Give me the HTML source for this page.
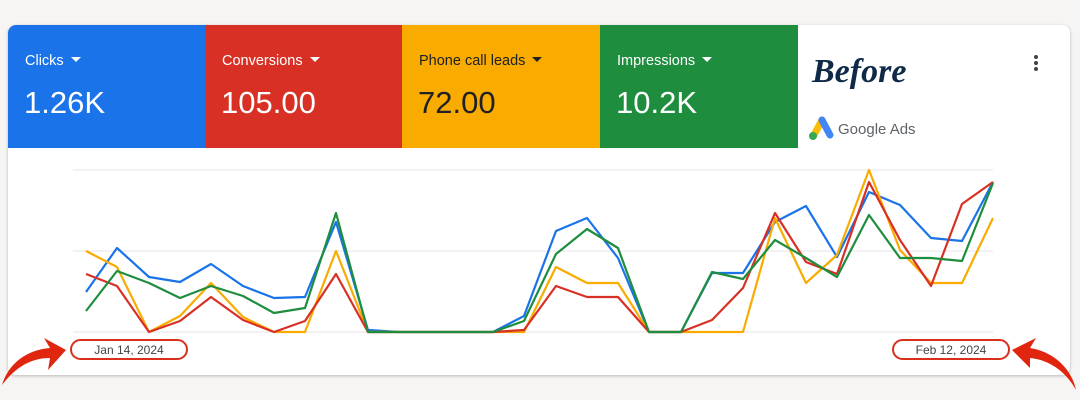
<!DOCTYPE html>
<html><head><style>
body{margin:0;width:1080px;height:400px;background:#f6f5f3;font-family:"Liberation Sans",sans-serif;position:relative;overflow:hidden}
.card{position:absolute;left:8px;top:25px;width:1062px;height:350px;background:#fff;border-radius:8px;box-shadow:0 1px 3px rgba(0,0,0,.25);overflow:hidden}
.tile{position:absolute;top:0;height:123px;width:198px;color:#fff}
.tile .l{position:absolute;left:17px;top:28px;font-size:14.5px}
.tile .v{position:absolute;left:16px;top:60px;font-size:31px}
.tri{display:inline-block;width:0;height:0;border-left:5px solid transparent;border-right:5px solid transparent;border-top:5px solid currentColor;margin-left:7px;vertical-align:3px}
</style></head><body>
<div class="card">
<div class="tile" style="left:0;background:#1a73e8"><div class="l">Clicks<span class="tri"></span></div><div class="v">1.26K</div></div>
<div class="tile" style="left:197px;background:#d93025"><div class="l">Conversions<span class="tri"></span></div><div class="v">105.00</div></div>
<div class="tile" style="left:394px;background:#f9ab00;color:#202124"><div class="l">Phone call leads<span class="tri"></span></div><div class="v">72.00</div></div>
<div class="tile" style="left:592px;background:#1e8e3e"><div class="l">Impressions<span class="tri"></span></div><div class="v">10.2K</div></div>
<div style="position:absolute;left:804px;top:28px;font-family:'Liberation Serif',serif;font-style:italic;font-weight:bold;font-size:34px;color:#0f2a47">Before</div>
<div style="position:absolute;left:830px;top:96px;font-size:15px;color:#5f6368">Google Ads</div>
<svg style="position:absolute;left:796px;top:88px" width="32" height="30"><line x1="10" y1="22" x2="18" y2="7" stroke="#fbbc04" stroke-width="7" stroke-linecap="round"/><line x1="18" y1="7" x2="26" y2="22" stroke="#4285f4" stroke-width="7" stroke-linecap="round"/><circle cx="9" cy="23" r="4" fill="#34a853"/></svg>
<div style="position:absolute;left:1026px;top:30px;width:4px">
<div style="width:4px;height:4px;border-radius:2px;background:#444;margin-bottom:2px"></div><div style="width:4px;height:4px;border-radius:2px;background:#444;margin-bottom:2px"></div><div style="width:4px;height:4px;border-radius:2px;background:#444"></div></div>
</div>
<svg style="position:absolute;left:0;top:0" width="1080" height="400">
<g stroke="#e4e4e4" stroke-width="1"><line x1="73" y1="170" x2="993" y2="170"/><line x1="73" y1="251" x2="993" y2="251"/><line x1="73" y1="332" x2="993" y2="332"/></g>
<g fill="none" stroke-width="2.2" stroke-linejoin="round">
<polyline stroke="#1a73e8" points="86,292 117,248 149,277 180,282 211,264 243,286 274,298 305,297 336,222 368,330 399,332 430,332 462,332 493,332 524,316 556,231 587,218 618,258 649,332 681,332 712,273 743,273 775,222 806,206 837,257 869,192 900,205 931,238 962,241 993,182"/>
<polyline stroke="#f9ab00" points="86,251 117,267 149,332 180,316 211,283 243,317 274,332 305,332 336,251 368,332 399,332 430,332 462,332 493,332 524,332 556,267 587,283 618,283 649,332 681,332 712,332 743,332 775,218 806,283 837,255 869,170 900,250 931,283 962,283 993,218"/>
<polyline stroke="#d93025" points="86,274 117,286 149,332 180,321 211,297 243,320 274,332 305,321 336,274 368,332 399,332 430,332 462,332 493,332 524,330 556,286 587,297 618,297 649,332 681,332 712,320 743,288 775,213 806,262 837,274 869,182 900,240 931,286 962,204 993,182"/>
<polyline stroke="#1e8e3e" points="86,311 117,271 149,283 180,298 211,286 243,296 274,313 305,308 336,213 368,332 399,332 430,332 462,332 493,332 524,321 556,254 587,229 618,248 649,332 681,332 712,272 743,279 775,240 806,258 837,277 869,215 900,258 931,258 962,261 993,183"/>
</g>
<rect x="71" y="340" width="116" height="19" rx="9.5" fill="#fff" stroke="#d9301c" stroke-width="2"/>
<text x="129" y="354" font-size="12" fill="#444" text-anchor="middle" font-family="Liberation Sans">Jan 14, 2024</text>
<rect x="893" y="340" width="116" height="19" rx="9.5" fill="#fff" stroke="#d9301c" stroke-width="2"/>
<text x="951" y="354" font-size="12" fill="#444" text-anchor="middle" font-family="Liberation Sans">Feb 12, 2024</text>
<path d="M2,385 C8,365 25,350 50,348 L44,338 L66,350 L48,370 L50,358 C30,358 15,368 2,385Z" fill="#e0260f"/>
<path d="M1076,390 C1072,370 1055,352 1030,348 L1036,338 L1012,350 L1030,368 L1030,358 C1050,360 1066,372 1076,390Z" fill="#e0260f"/>
</svg>
</body></html>
